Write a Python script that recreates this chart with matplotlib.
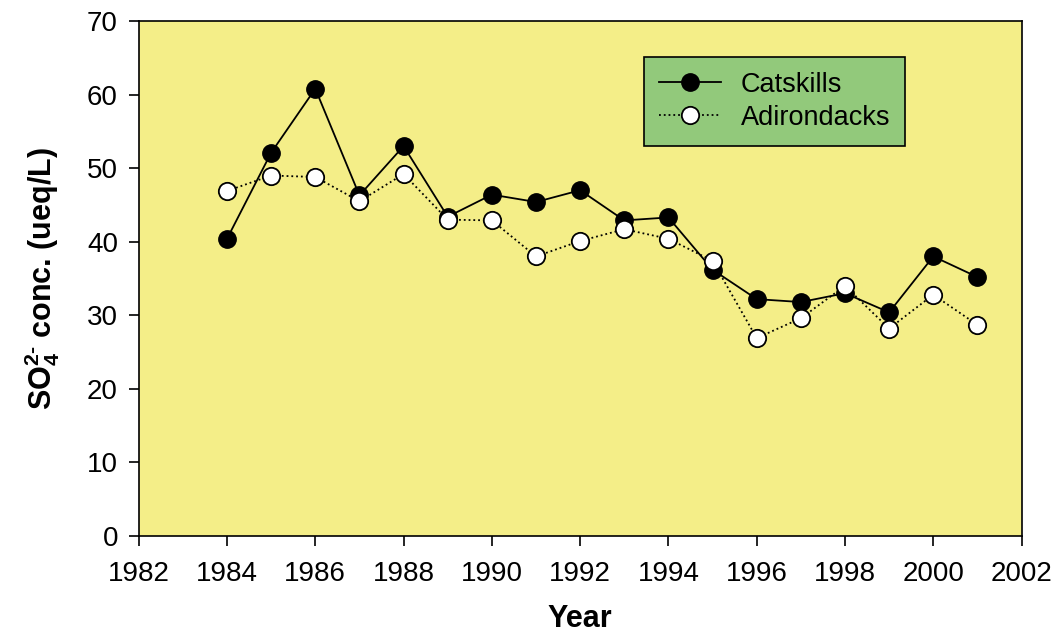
import matplotlib
matplotlib.use("Agg")
import matplotlib.pyplot as plt

years = [1984, 1985, 1986, 1987, 1988, 1989, 1990, 1991, 1992, 1993,
         1994, 1995, 1996, 1997, 1998, 1999, 2000, 2001]
catskills = [40.4, 52.1, 60.8, 46.3, 53.0, 43.4, 46.4, 45.4, 47.0, 42.9,
             43.3, 36.2, 32.2, 31.8, 33.0, 30.4, 38.0, 35.2]
adirondacks = [46.9, 49.0, 48.8, 45.5, 49.2, 43.0, 42.9, 38.0, 40.1, 41.7,
               40.4, 37.4, 26.9, 29.6, 34.0, 28.2, 32.8, 28.7]
xticks = list(range(1982, 2003, 2))
yticks = list(range(0, 71, 10))

plt.rcParams['font.family'] = ['Liberation Sans', 'DejaVu Sans']
plt.rcParams['mathtext.fontset'] = 'custom'
plt.rcParams['mathtext.rm'] = 'Liberation Sans:bold'
plt.rcParams['mathtext.bf'] = 'Liberation Sans:bold'

fig = plt.figure(figsize=(10.55, 6.33), dpi=100)
ax = fig.add_axes([0.1315, 0.1532, 0.8368, 0.8136])
ax.set_facecolor('#F4EE88')

ax.plot(years, catskills, '-', color='black', lw=1.3, marker='o', ms=12.5,
        mfc='black', mec='black', mew=1.0, label='Catskills', zorder=3)
ax.plot(years, adirondacks, ':', color='black', lw=1.3, marker='o', ms=12.5,
        mfc='white', mec='black', mew=1.3, label='Adirondacks', zorder=4)

ax.set_xlim(1982, 2002)
ax.set_ylim(0, 70)
ax.set_xticks(xticks)
ax.set_yticks(yticks)
ax.tick_params(axis='both', direction='out', length=7, width=1.2, labelsize=20)
ax.tick_params(axis='x', pad=11)
ax.tick_params(axis='y', pad=8)
ax.tick_params(top=False, right=False)
for s in ax.spines.values():
    s.set_linewidth(1.2)

ax.set_xlabel('Year', fontsize=22, fontweight='bold', labelpad=12)
ax.set_ylabel(r'$\mathbf{SO_4^{2\text{-}}}$ conc. (ueq/L)', fontsize=22, fontweight='bold', labelpad=18)

leg = ax.legend(loc='upper left', bbox_to_anchor=(0.572, 0.93), fontsize=19.5,
                frameon=True, fancybox=False, facecolor='#92C97B', edgecolor='black',
                framealpha=1, borderpad=0.55, handlelength=2.3, labelspacing=0.25,
                handletextpad=0.74, borderaxespad=0)
leg.get_frame().set_linewidth(1.2)

fig.savefig('out.png', dpi=100)
